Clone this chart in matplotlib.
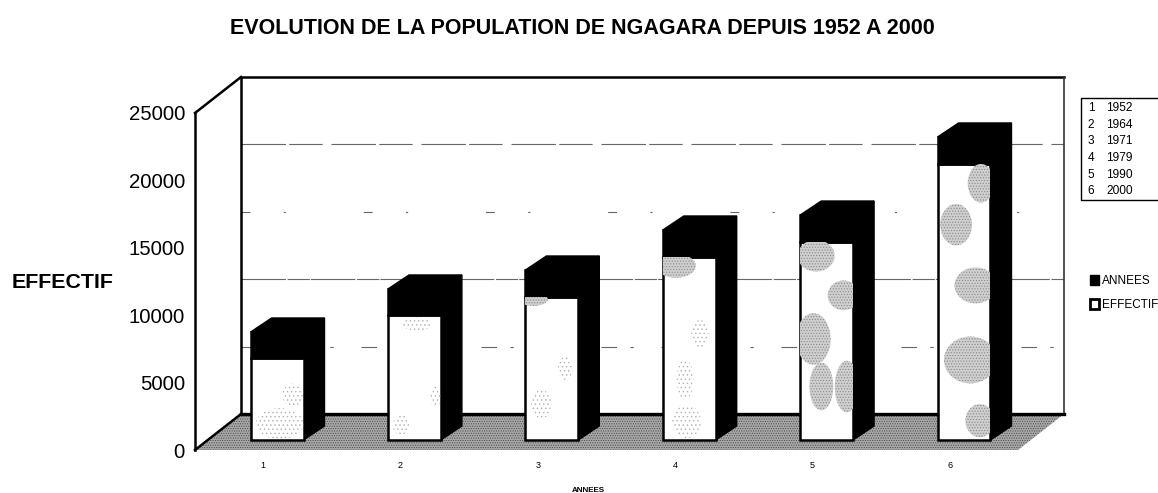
import matplotlib
matplotlib.use('Agg')
import matplotlib.pyplot as plt
from matplotlib.patches import Patch, Polygon, Ellipse
from matplotlib.transforms import Affine2D

plt.rcParams['font.family'] = ['Liberation Sans', 'DejaVu Sans']
plt.rcParams['hatch.linewidth'] = 0.5

# values
rangs = [1, 2, 3, 4, 5, 6]
annees = [1952, 1964, 1971, 1979, 1990, 2000]
effectif = [6060, 9240, 10640, 13600, 14700, 20480]
yticks = [0, 5000, 10000, 15000, 20000, 25000]

# grey scan blotches: bar number, place across and up the bar, size across and up
taches = [
    (3, 0.15, 0.98, 0.55, 0.09),
    (4, 0.25, 0.95, 0.75, 0.13),
    (5, 0.30, 0.93, 0.70, 0.16),
    (5, 0.82, 0.73, 0.60, 0.15),
    (5, 0.25, 0.51, 0.65, 0.26),
    (5, 0.40, 0.27, 0.45, 0.24),
    (5, 0.88, 0.27, 0.45, 0.26),
    (6, 0.35, 0.78, 0.60, 0.15),
    (6, 0.82, 0.93, 0.50, 0.14),
    (6, 0.72, 0.56, 0.80, 0.13),
    (6, 0.62, 0.29, 1.00, 0.17),
    (6, 0.80, 0.07, 0.55, 0.12),
]
# lighter speckled areas, same columns
semis = [
    (1, 0.55, 0.20, 0.90, 0.38),
    (1, 0.80, 0.55, 0.40, 0.28),
    (2, 0.55, 0.93, 0.55, 0.11),
    (2, 0.90, 0.35, 0.22, 0.16),
    (2, 0.25, 0.12, 0.32, 0.16),
    (3, 0.30, 0.25, 0.38, 0.20),
    (3, 0.75, 0.50, 0.28, 0.16),
    (4, 0.70, 0.58, 0.32, 0.15),
    (4, 0.42, 0.33, 0.32, 0.22),
    (4, 0.45, 0.10, 0.55, 0.18),
]

W, H = 1158, 493
fig = plt.figure(figsize=(W / 100, H / 100), dpi=100)

# the front plane of the chart, the 3D part is pixel offsets from it
ax = fig.add_axes([195 / W, 1 - 450 / H, (1018 - 195) / W, 337 / H])
ax.set_xlim(0.41, 6.4)
ax.set_ylim(0, 25000)
ax.set_axis_off()


def decale(dx, dy):
    return ax.transData + Affine2D().translate(dx, dy)


# depth of the box and of the bars, in pixels
box_dx, box_dy = 46, 36
bar_dx, bar_dy = 21, 14
base_dx, base_dy = 1, 10
x0, x1 = ax.get_xlim()
ymax = yticks[-1]
back = decale(box_dx, box_dy)
bar_tr = decale(base_dx, base_dy)

# same depth offsets as data units, for the polygons
px_x = ax.transData.transform((1, 0))[0] - ax.transData.transform((0, 0))[0]
px_y = ax.transData.transform((0, 1))[1] - ax.transData.transform((0, 0))[1]
box_x, box_y = box_dx / px_x, box_dy / px_y
dx_data, dy_data = bar_dx / px_x, bar_dy / px_y

# floor
ax.add_patch(Polygon([(x0, 0), (x1, 0), (x1 + box_x, box_y), (x0 + box_x, box_y)], closed=True,
                     fc='#a8a8a8', ec='#4a4a4a', lw=0, hatch='.......', clip_on=False, zorder=1))

# gridlines on the back wall, some came out very broken in the scan
styles = {5000: (0, (14, 12, 3, 25)), 10000: (0, (40, 1.5, 20, 1)),
          15000: (0, (8, 30, 2, 70)), 20000: (0, (40, 3, 30, 8))}
for v in yticks[1:-1]:
    ax.plot([x0, x1], [v, v], color='#666666', lw=0.8, ls=styles[v],
            transform=back, clip_on=False, zorder=2)

# back wall frame
ax.plot([x0, x0, x1], [0, ymax, ymax], color='black', lw=1.8, transform=back,
        clip_on=False, zorder=3, solid_joinstyle='miter')
ax.plot([x1, x1], [0, ymax], color='#333333', lw=1.2, transform=back, clip_on=False, zorder=3)
ax.plot([x0, x1], [0, 0], color='black', lw=2.4, transform=back, clip_on=False, zorder=3)

# left wall
ax.plot([x0, x0], [0, ymax], color='black', lw=1.8, clip_on=False, zorder=3)
ax.plot([x0, x0 + box_x], [ymax, ymax + box_y], color='black', lw=1.8, clip_on=False, zorder=3)
ax.plot([x0, x0 + box_x], [0, box_y], color='black', lw=1.8, clip_on=False, zorder=3)

# bars
largeur = 0.385
ax.bar(rangs, effectif, width=largeur, color='white', edgecolor='black', lw=1.8,
       transform=bar_tr, zorder=5)
ax.bar(rangs, annees, bottom=effectif, width=largeur, color='black', edgecolor='black',
       lw=1.8, transform=bar_tr, zorder=5)

for r, e, an in zip(rangs, effectif, annees):
    g, d = r - largeur / 2, r + largeur / 2
    tot = e + an
    # right side and top of the block, both solid black
    ax.add_patch(Polygon([(d, 0), (d + dx_data, dy_data), (d + dx_data, tot + dy_data), (d, tot)],
                         closed=True, fc='black', ec='black', lw=1, transform=bar_tr, zorder=4))
    ax.add_patch(Polygon([(g, tot), (g + dx_data, tot + dy_data), (d + dx_data, tot + dy_data), (d, tot)],
                         closed=True, fc='black', ec='black', lw=1, transform=bar_tr, zorder=4))

# invisible copies of the bars, used to clip the blotches
bars = ax.bar(rangs, effectif, width=largeur, color='none', edgecolor='none',
              transform=bar_tr, zorder=5)


def tacher(liste, fc, ec, hatch):
    for r, fx, fy, sx, sy in liste:
        e = effectif[r - 1]
        tache = Ellipse((r - largeur / 2 + fx * largeur, fy * e), sx * largeur, sy * e,
                        fc=fc, ec=ec, lw=0, hatch=hatch, transform=bar_tr, zorder=6)
        ax.add_patch(tache)
        tache.set_clip_path(bars[r - 1].get_path(), bars[r - 1].get_transform())


tacher(taches, '#cfcfcf', '#8a8a8a', '......')
tacher(semis, 'none', '#b0b0b0', '....')

# axis texts
for v in yticks:
    ax.annotate(str(v), (x0, v), xytext=(-10, -2), textcoords='offset pixels', ha='right',
                va='center', fontsize=14.7, annotation_clip=False)
for r in rangs:
    ax.annotate(str(r), (r, 0), xytext=(-13, -16), textcoords='offset pixels', ha='center',
                va='center', fontsize=6.5, annotation_clip=False)

fig.text(588 / W, 1 - 490 / H, 'ANNEES', ha='center', va='center', fontsize=5.8, fontweight='bold')
fig.text(12 / W, 1 - 283 / H, 'EFFECTIF', ha='left', va='center', fontsize=15.4, fontweight='bold')
fig.text(582.5 / W, 1 - 29 / H, 'EVOLUTION DE LA POPULATION DE NGAGARA DEPUIS 1952 A 2000',
         ha='center', va='center', fontsize=15.5, fontweight='bold')

# table of years on the right
fig.add_artist(plt.Line2D([1158 / W, 1081 / W, 1081 / W, 1158 / W],
                          [1 - 98 / H, 1 - 98 / H, 1 - 200 / H, 1 - 200 / H], color='black', lw=1))
for i, (r, an) in enumerate(zip(rangs, annees)):
    y = 1 - (108 + i * 16.7) / H
    fig.text(1091 / W, y, str(r), ha='center', va='center', fontsize=8.6)
    fig.text(1106 / W, y, str(an), ha='left', va='center', fontsize=8.6)

# legend
handles = [Patch(fc='black', ec='black', label='ANNEES'),
           Patch(fc='white', ec='black', lw=2, label='EFFECTIF')]
fig.legend(handles=handles, loc='center left', bbox_to_anchor=(1090 / W, 1 - 293 / H), frameon=False,
           fontsize=8.5, handlelength=0.8, handleheight=0.9, handletextpad=0.25, labelspacing=1.0,
           borderpad=0, borderaxespad=0)

fig.savefig('out.png', dpi=100)
